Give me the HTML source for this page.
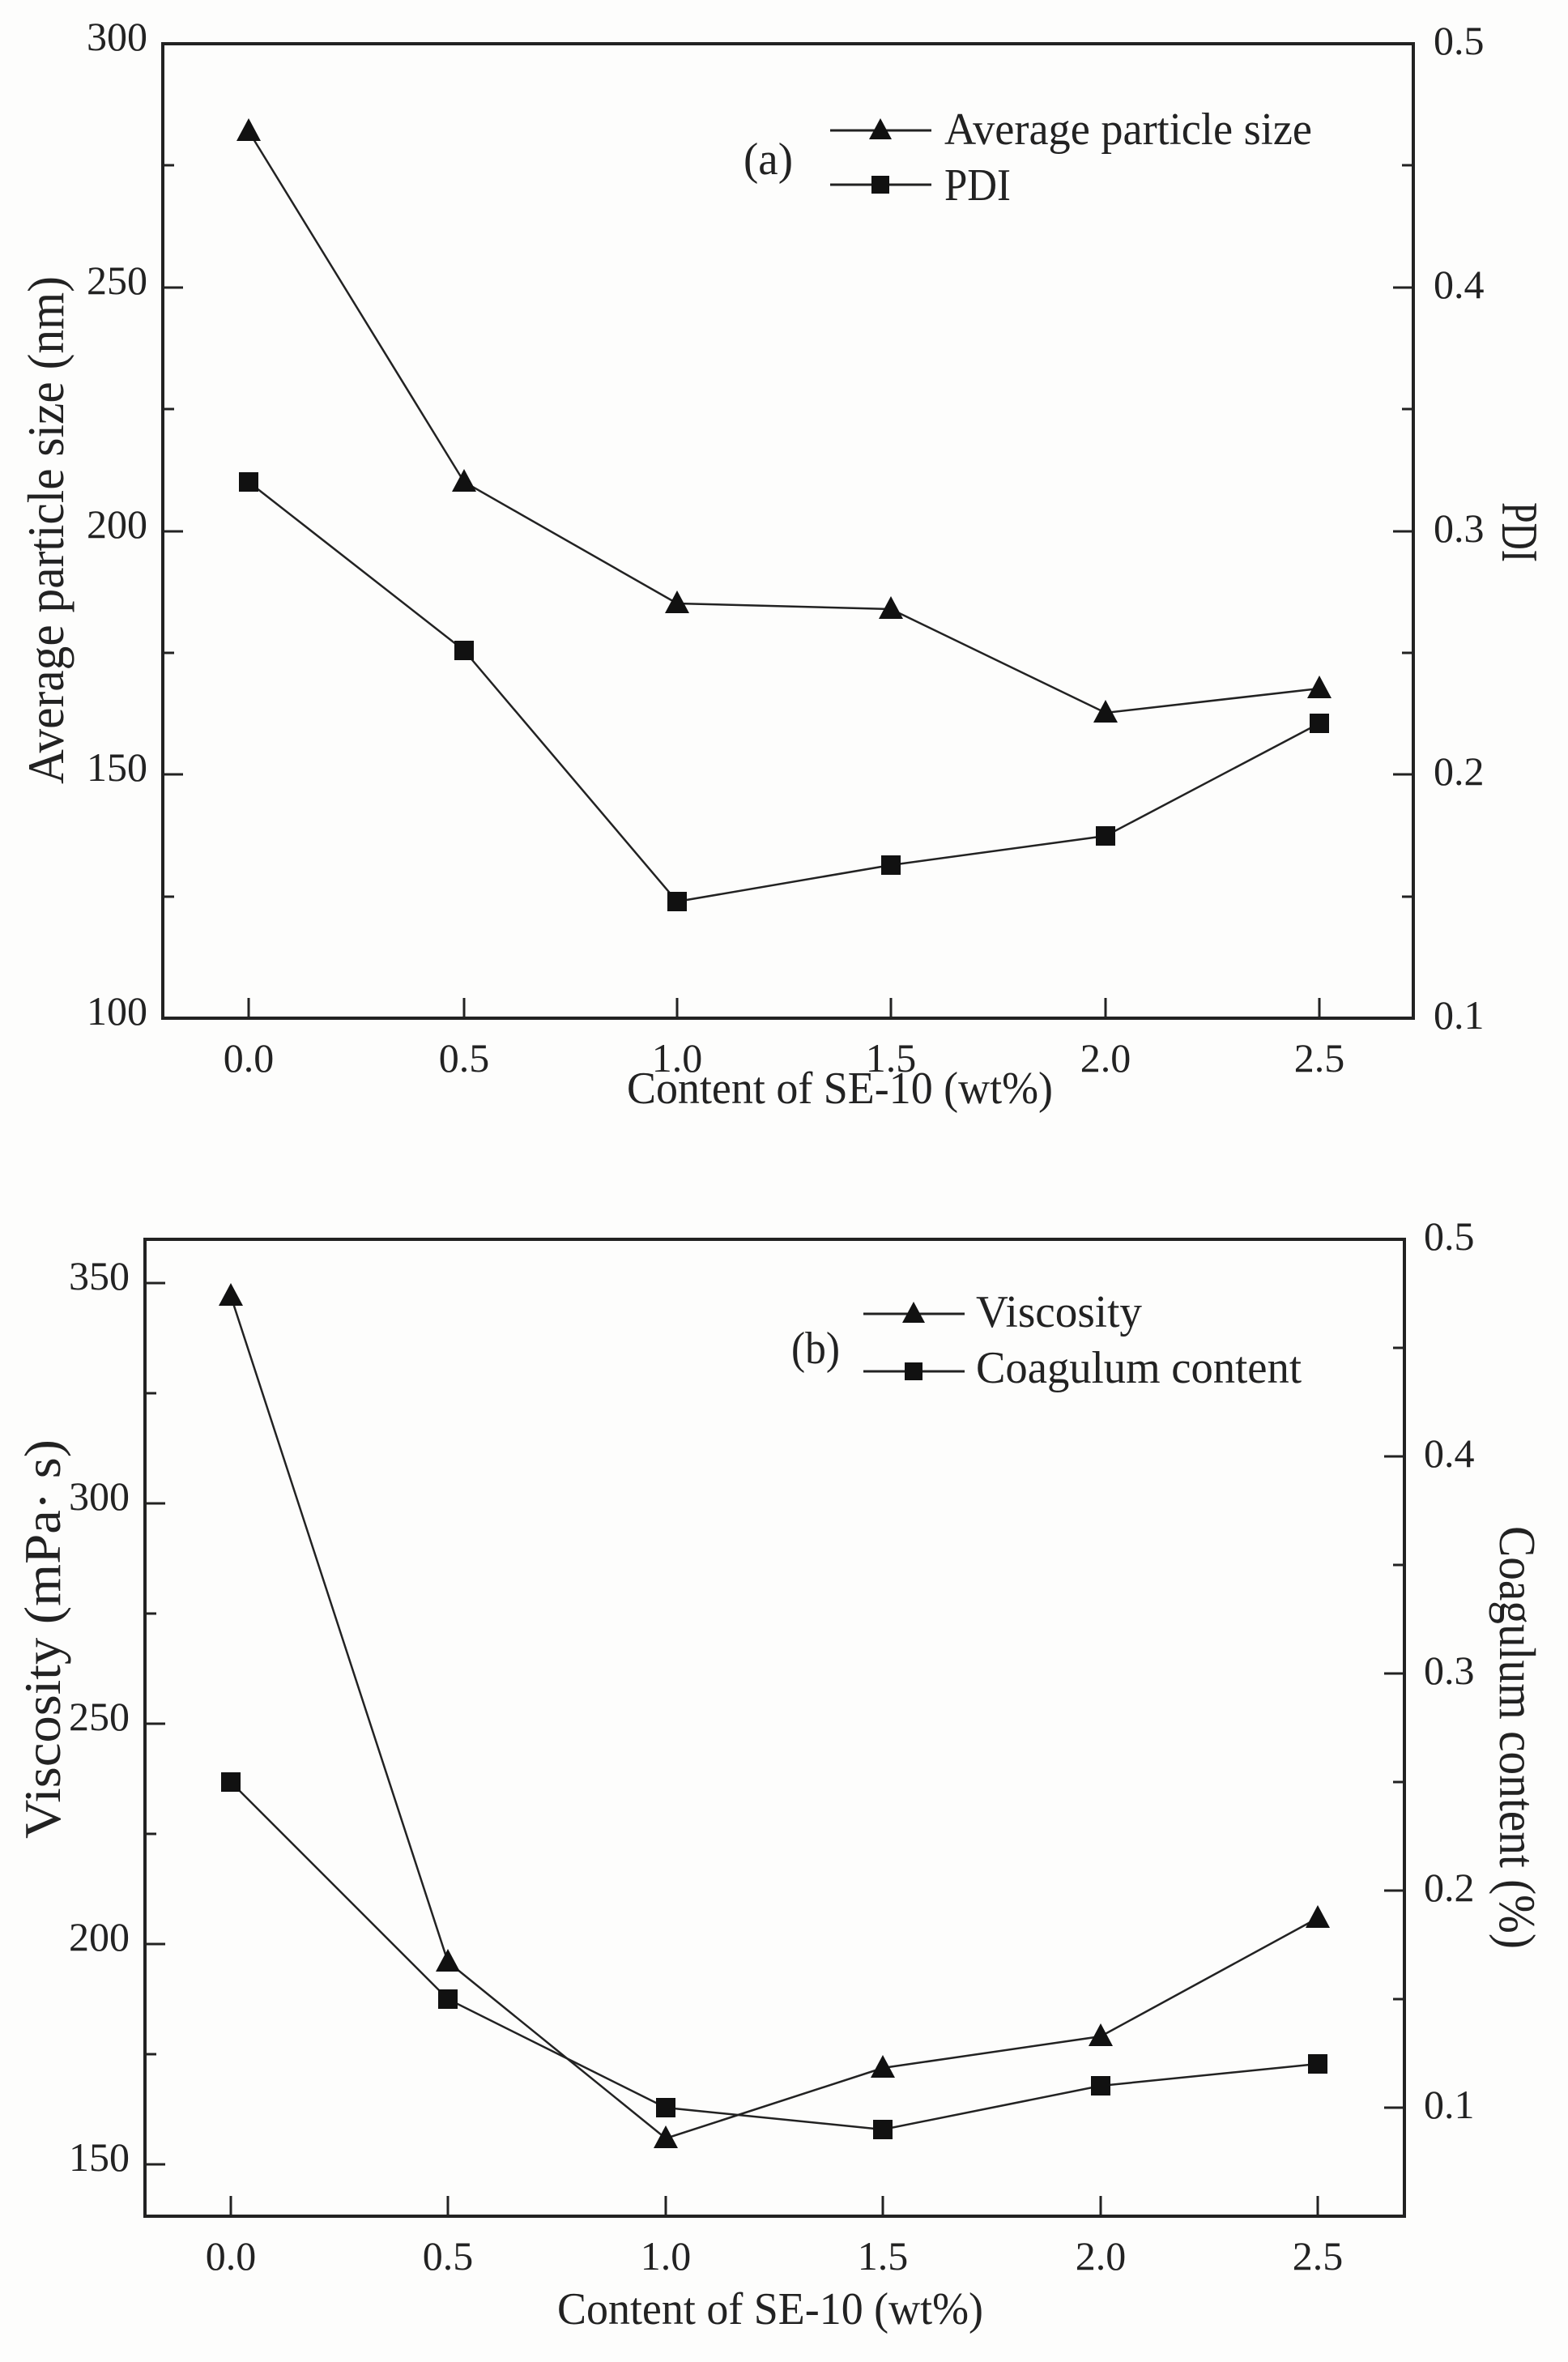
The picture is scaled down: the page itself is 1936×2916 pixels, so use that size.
<!DOCTYPE html>
<html><head><meta charset="utf-8"><style>
html,body{margin:0;padding:0;background:#fff}
svg{display:block}
text{font-family:"Liberation Serif",serif;fill:#222}
</style></head><body>
<svg width="1936" height="2916" viewBox="0 0 1936 2916" xmlns="http://www.w3.org/2000/svg">
<rect width="1936" height="2916" fill="#fdfdfc"/>
<!-- ===== Panel (a) ===== -->
<g stroke="#222" fill="none">
<rect x="201" y="54" width="1544" height="1203" stroke-width="4"/>
<path stroke-width="3" d="M201 54h25M201 355h25M201 656h25M201 956h25M201 1257h25M201 204h14M201 505h14M201 806h14M201 1107h14"/>
<path stroke-width="3" d="M1745 54h-25M1745 355h-25M1745 656h-25M1745 956h-25M1745 1257h-25M1745 204h-14M1745 505h-14M1745 806h-14M1745 1107h-14"/>
<path stroke-width="3" d="M307 1257v-25M573 1257v-25M836 1257v-25M1100 1257v-25M1365 1257v-25M1629 1257v-25"/>
<polyline stroke-width="2.5" points="307,162 573,595 836,745 1100,752 1365,880 1629,850"/>
<polyline stroke-width="2.5" points="307,595 573,803 836,1113 1100,1068 1365,1032 1629,893"/>
<path stroke-width="3" d="M1025 161h125M1025 228h125"/>
</g>
<g fill="#111">
<polygon points="307,146 292,174 322,174"/><polygon points="573,579 558,607 588,607"/><polygon points="836,729 821,757 851,757"/><polygon points="1100,736 1085,764 1115,764"/><polygon points="1365,864 1350,892 1380,892"/><polygon points="1629,834 1614,862 1644,862"/>
<rect x="295" y="583" width="24" height="24"/><rect x="561" y="791" width="24" height="24"/><rect x="824" y="1101" width="24" height="24"/><rect x="1088" y="1056" width="24" height="24"/><rect x="1353" y="1020" width="24" height="24"/><rect x="1617" y="881" width="24" height="24"/>
<polygon points="1087,146 1073,172 1101,172"/><rect x="1076" y="217" width="22" height="22"/>
</g>
<g font-size="50" text-anchor="end">
<text x="182" y="62">300</text><text x="182" y="363">250</text><text x="182" y="664">200</text><text x="182" y="964">150</text><text x="182" y="1265">100</text>
</g>
<g font-size="50">
<text x="1770" y="67">0.5</text><text x="1770" y="368">0.4</text><text x="1770" y="669">0.3</text><text x="1770" y="969">0.2</text><text x="1770" y="1270">0.1</text>
</g>
<g font-size="50" text-anchor="middle">
<text x="307" y="1323">0.0</text><text x="573" y="1323">0.5</text><text x="836" y="1323">1.0</text><text x="1100" y="1323">1.5</text><text x="1365" y="1323">2.0</text><text x="1629" y="1323">2.5</text>
</g>
<text x="774" y="1362" font-size="56" textLength="526" lengthAdjust="spacingAndGlyphs">Content of SE-10 (wt%)</text>
<text font-size="64" transform="translate(78,968) rotate(-90)" textLength="627" lengthAdjust="spacingAndGlyphs">Average particle size (nm)</text>
<text font-size="64" transform="translate(1855,620) rotate(90)" textLength="74" lengthAdjust="spacingAndGlyphs">PDI</text>
<text x="1166" y="178" font-size="56" textLength="454" lengthAdjust="spacingAndGlyphs">Average particle size</text>
<text x="1166" y="247" font-size="56" textLength="82" lengthAdjust="spacingAndGlyphs">PDI</text>
<text x="918" y="215" font-size="56" textLength="61" lengthAdjust="spacingAndGlyphs">(a)</text>

<!-- ===== Panel (b) ===== -->
<g stroke="#222" fill="none">
<rect x="179" y="1530" width="1555" height="1206" stroke-width="4"/>
<path stroke-width="3" d="M179 1584h25M179 1856h25M179 2128h25M179 2400h25M179 2672h25M179 1720h14M179 1992h14M179 2264h14M179 2536h14"/>
<path stroke-width="3" d="M1734 1530h-25M1734 1798h-25M1734 2066h-25M1734 2334h-25M1734 2602h-25M1734 1664h-14M1734 1932h-14M1734 2200h-14M1734 2468h-14"/>
<path stroke-width="3" d="M285 2736v-25M553 2736v-25M822 2736v-25M1090 2736v-25M1359 2736v-25M1627 2736v-25"/>
<polyline stroke-width="2.5" points="285,1600 553,2422 822,2640 1090,2553 1359,2514 1627,2368"/>
<polyline stroke-width="2.5" points="285,2200 553,2468 822,2602 1090,2629 1359,2575 1627,2548"/>
<path stroke-width="3" d="M1066 1622h125M1066 1693h125"/>
</g>
<g fill="#111">
<polygon points="285,1584 270,1612 300,1612"/><polygon points="553,2406 538,2434 568,2434"/><polygon points="822,2624 807,2652 837,2652"/><polygon points="1090,2537 1075,2565 1105,2565"/><polygon points="1359,2498 1344,2526 1374,2526"/><polygon points="1627,2352 1612,2380 1642,2380"/>
<rect x="273" y="2188" width="24" height="24"/><rect x="541" y="2456" width="24" height="24"/><rect x="810" y="2590" width="24" height="24"/><rect x="1078" y="2617" width="24" height="24"/><rect x="1347" y="2563" width="24" height="24"/><rect x="1615" y="2536" width="24" height="24"/>
<polygon points="1128,1607 1114,1633 1142,1633"/><rect x="1117" y="1682" width="22" height="22"/>
</g>
<g font-size="50" text-anchor="end">
<text x="160" y="1592">350</text><text x="160" y="1864">300</text><text x="160" y="2136">250</text><text x="160" y="2408">200</text><text x="160" y="2680">150</text>
</g>
<g font-size="50">
<text x="1758" y="1543">0.5</text><text x="1758" y="1811">0.4</text><text x="1758" y="2079">0.3</text><text x="1758" y="2347">0.2</text><text x="1758" y="2615">0.1</text>
</g>
<g font-size="50" text-anchor="middle">
<text x="285" y="2802">0.0</text><text x="553" y="2802">0.5</text><text x="822" y="2802">1.0</text><text x="1090" y="2802">1.5</text><text x="1359" y="2802">2.0</text><text x="1627" y="2802">2.5</text>
</g>
<text x="688" y="2869" font-size="56" textLength="526" lengthAdjust="spacingAndGlyphs">Content of SE-10 (wt%)</text>
<text font-size="64" transform="translate(74,2270) rotate(-90)" textLength="493" lengthAdjust="spacingAndGlyphs">Viscosity (mPa· s)</text>
<text font-size="64" transform="translate(1852,1884) rotate(90)" textLength="522" lengthAdjust="spacingAndGlyphs">Coagulum content (%)</text>
<text x="1205" y="1638" font-size="56" textLength="205" lengthAdjust="spacingAndGlyphs">Viscosity</text>
<text x="1205" y="1707" font-size="56" textLength="402" lengthAdjust="spacingAndGlyphs">Coagulum content</text>
<text x="977" y="1683" font-size="56" textLength="60" lengthAdjust="spacingAndGlyphs">(b)</text>
</svg>
</body></html>
